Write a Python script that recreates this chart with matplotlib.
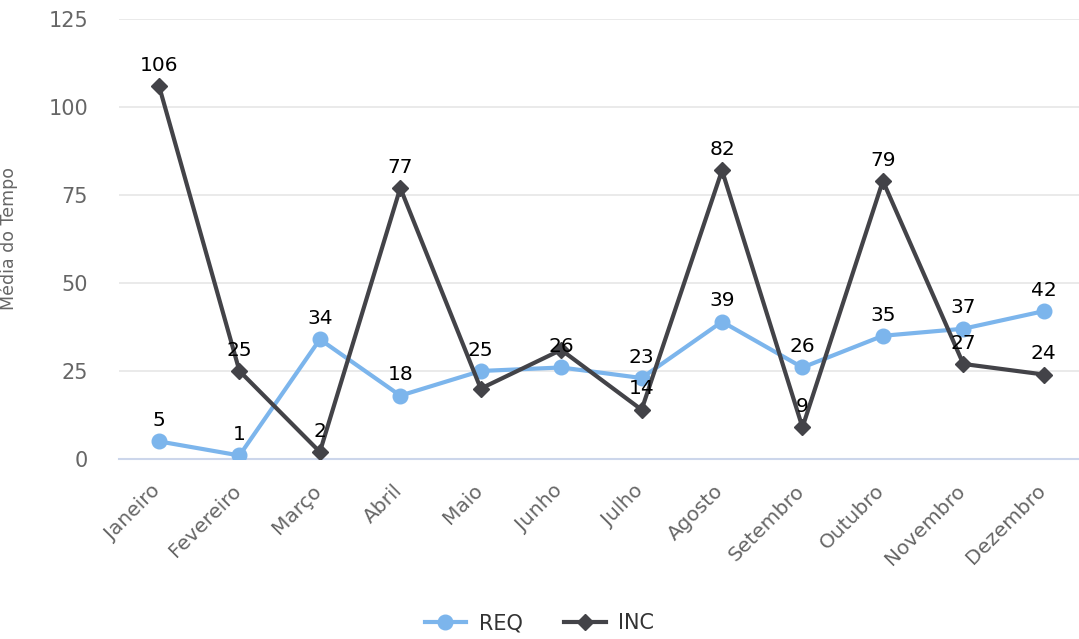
import matplotlib
matplotlib.use("Agg")
import matplotlib.pyplot as plt
import matplotlib.transforms as mtransforms
from matplotlib.lines import Line2D

meses = ["Janeiro", "Fevereiro", "Março", "Abril", "Maio", "Junho",
         "Julho", "Agosto", "Setembro", "Outubro", "Novembro", "Dezembro"]
req = [5, 1, 34, 18, 25, 26, 23, 39, 26, 35, 37, 42]
inc = [106, 25, 2, 77, 20, 31, 14, 82, 9, 79, 27, 24]
# rotulos de INC escondidos por sobreposicao (Maio, Junho)
inc_ocultos = [4, 5]
y_ticks = [0, 25, 50, 75, 100, 125]

COR_REQ = "#7cb5ec"
COR_INC = "#434348"

plt.rcParams["font.family"] = ["DejaVu Sans"]

fig = plt.figure(figsize=(10.79, 6.39), dpi=100)
ax = fig.add_axes([0.1101, 0.2817, 0.8945, 0.6886])

x = list(range(len(meses)))
ax.plot(x, req, color=COR_REQ, lw=3, marker="o", ms=10.5, zorder=3)
ax.plot(x, inc, color=COR_INC, lw=3, marker="D", ms=8, zorder=4)

for i, v in enumerate(req):
    ax.annotate(str(v), (i, v), xytext=(0, 11), textcoords="offset points",
                ha="center", va="baseline", fontsize=14.5, color="black", zorder=6)
for i, v in enumerate(inc):
    if i in inc_ocultos:
        continue
    ax.annotate(str(v), (i, v), xytext=(0, 11), textcoords="offset points",
                ha="center", va="baseline", fontsize=14.5, color="black", zorder=6)

ax.set_xlim(-0.5, len(meses) - 0.5)
ax.set_ylim(0, 125)
ax.set_yticks(y_ticks)
ax.set_xticks(x)
ax.set_xticklabels(meses, rotation=45, ha="right", rotation_mode="anchor")
ax.tick_params(axis="x", length=0, pad=16, labelsize=14.5, labelcolor="#666666")
ax.tick_params(axis="y", length=0, pad=22, labelsize=15, labelcolor="#666666")

# desloca os rotulos do eixo x um pouco para a esquerda
desloc = mtransforms.ScaledTranslation(-8 / 100, 0, fig.dpi_scale_trans)
for lbl in ax.get_xticklabels():
    lbl.set_transform(lbl.get_transform() + desloc)

ax.grid(axis="y", color="#e6e6e6", lw=1.2)
ax.set_axisbelow(True)
for lado in ["top", "right", "left"]:
    ax.spines[lado].set_visible(False)
ax.spines["bottom"].set_color("#ccd6eb")
ax.spines["bottom"].set_linewidth(1.5)
ax.spines["bottom"].set_zorder(1)

ax.set_ylabel("Média do Tempo", fontsize=12.5, color="#666666")
ax.yaxis.set_label_coords(-0.104, 0.5)

handles = [
    Line2D([], [], color=COR_REQ, lw=3, marker="o", ms=10.5),
    Line2D([], [], color=COR_INC, lw=3, marker="D", ms=8),
]
fig.legend(handles, ["REQ", "INC"], loc="center", bbox_to_anchor=(0.5, 0.025),
           ncol=2, frameon=False, fontsize=15, labelcolor="#333333",
           handlelength=2.0, columnspacing=2.0, handletextpad=0.6)

fig.savefig("out.png", dpi=100)
